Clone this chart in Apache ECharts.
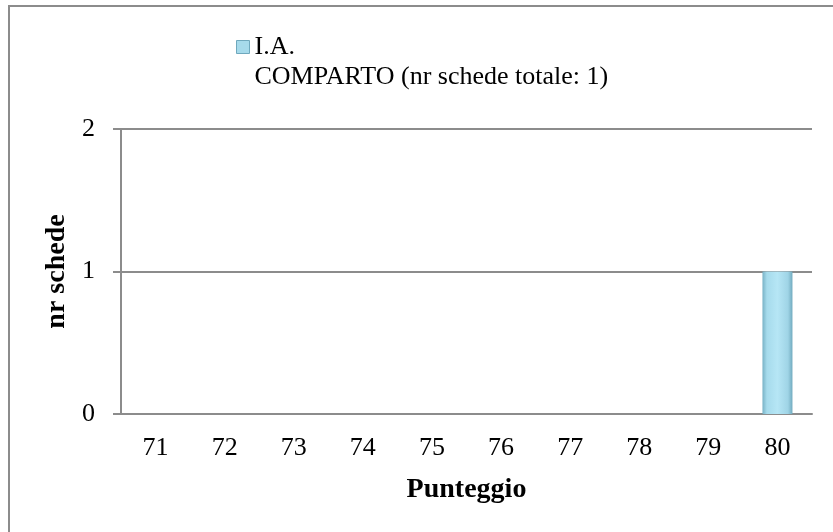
<!DOCTYPE html>
<html>
<head>
<meta charset="utf-8">
<script src="https://cdn.jsdelivr.net/npm/echarts@6/dist/echarts.min.js"></script>
<style>
  html, body { margin: 0; padding: 0; background: #fff; }
  #chart { width: 833px; height: 532px; }
</style>
</head>
<body>
<div id="chart"></div>
<script>
const categories = ['71', '72', '73', '74', '75', '76', '77', '78', '79', '80']
const schede = [0, 0, 0, 0, 0, 0, 0, 0, 0, 1]
const seriesName = 'I.A.\nCOMPARTO (nr schede totale: 1)'
const yTicks = [0, 1, 2]

const font = '"Liberation Serif", "DejaVu Serif", serif'
const gray = '#8c8c8c'
const chart = echarts.init(document.getElementById('chart'))

// light blue bar with darker edges
const barColor = new echarts.graphic.LinearGradient(0, 0, 1, 0, [
  { offset: 0, color: '#78b2c6' },
  { offset: 0.15, color: '#a6dbec' },
  { offset: 0.5, color: '#b6e6f5' },
  { offset: 0.85, color: '#9fd4e6' },
  { offset: 1, color: '#72abbf' },
])

chart.setOption({
  animation: false,
  textStyle: { fontFamily: font },
  graphic: [{
    type: 'rect',
    shape: { x: 9, y: 6, width: 900, height: 600 },
    style: { fill: 'none', stroke: gray, lineWidth: 2 },
    silent: true,
  }],
  legend: {
    left: 236,
    top: 2,
    padding: 0,
    itemWidth: 13,
    itemHeight: 13,
    icon: 'rect',
    // blank first line so the icon sits beside the first real line
    formatter: name => ' \n' + name,
    textStyle: { fontFamily: font, fontSize: 26, color: '#000', lineHeight: 30 },
    data: [{ name: seriesName, itemStyle: { color: '#a6daeb', borderColor: '#6fa8bd', borderWidth: 1 } }],
  },
  grid: { left: 121, right: 21, top: 129, bottom: 118 },
  xAxis: {
    type: 'category',
    data: categories,
    name: 'Punteggio',
    nameLocation: 'middle',
    nameGap: 62,
    nameTextStyle: { fontFamily: font, fontSize: 28, fontWeight: 'bold', color: '#000' },
    axisLine: { lineStyle: { color: gray, width: 2 } },
    axisTick: { show: false },
    axisLabel: { fontFamily: font, fontSize: 26, color: '#000', margin: 21 },
  },
  yAxis: {
    type: 'value',
    min: yTicks[0],
    max: yTicks[yTicks.length - 1],
    interval: 1,
    name: 'nr schede',
    nameLocation: 'middle',
    nameGap: 49,
    nameTextStyle: { fontFamily: font, fontSize: 28, fontWeight: 'bold', color: '#000' },
    axisLine: { show: true, lineStyle: { color: gray, width: 2 } },
    axisTick: { show: true, length: 8, lineStyle: { color: gray, width: 2 } },
    axisLabel: { fontFamily: font, fontSize: 26, color: '#000', margin: 26 },
    splitLine: { lineStyle: { color: gray, width: 2 } },
  },
  series: [{
    name: seriesName,
    type: 'bar',
    data: schede,
    barWidth: 30,
    itemStyle: { color: barColor },
  }],
})
</script>
</body>
</html>
